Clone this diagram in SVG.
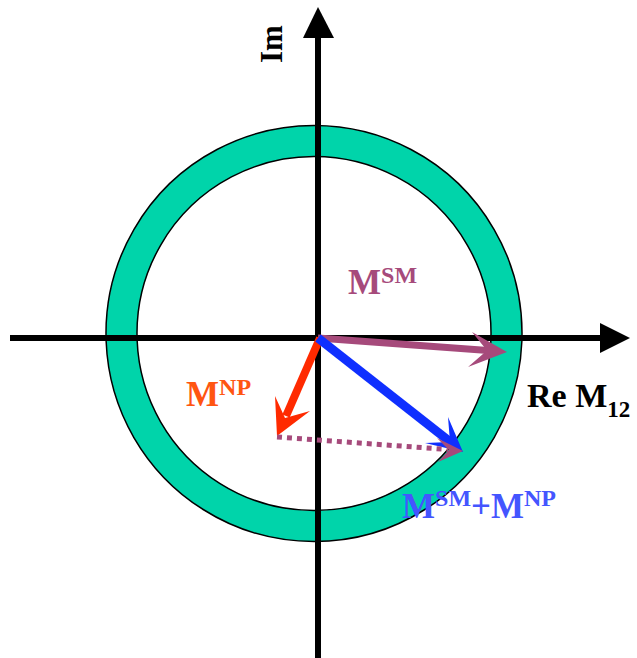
<svg xmlns="http://www.w3.org/2000/svg" width="637" height="658" viewBox="0 0 637 658">
<style>
.lbl{font-family:"Liberation Serif","Times New Roman",serif;font-weight:bold}
.ax{stroke:#000;stroke-width:6;fill:none}
</style>
<rect width="637" height="658" fill="#fff"/>
<g id="ring">
<path d="M314,125.5 a208,208 0 1,0 0.01,0 Z M314,156.5 a177,177 0 1,0 0.01,0 Z" fill="#00D4AA" fill-rule="evenodd" stroke="#000" stroke-width="1.5"/>
</g>
<g id="axes">
<line class="ax" x1="318" y1="36" x2="318" y2="658"/>
<polygon points="318,7 303,38 334,38" fill="#000"/>
<line class="ax" x1="10" y1="338" x2="602" y2="338"/>
<polygon points="630,338 600,323 600,353" fill="#000"/>
</g>
<g id="connectors">
<g id="msm-arrow">
<line x1="318" y1="338" x2="488" y2="350.5" stroke="#A64A7B" stroke-width="7"/>
<polygon points="507,352 472,332 487,350.5 468,367" fill="#A64A7B"/>
</g>
<g id="mnp-arrow">
<line x1="320" y1="338" x2="286" y2="416" stroke="#FF2A00" stroke-width="8"/>
<polygon points="277,436 275,396 285,418 310,411" fill="#FF2A00"/>
</g>
<g id="sum-arrow">
<line x1="318" y1="338" x2="451" y2="442.5" stroke="#0F2FFF" stroke-width="9"/>
<polygon points="463,452 448,417 450,442 425,443" fill="#0F2FFF"/>
</g>
<g id="dotted-arrow">
<line x1="277" y1="437" x2="448" y2="449.5" stroke="#A64A7B" stroke-width="5" stroke-dasharray="5 5"/>
<polygon points="463,451 437,438 449,450 438,462" fill="#A64A7B"/>
</g>
</g>
<g id="labels" class="lbl">
<text transform="translate(282,63) rotate(-90)" font-size="31" fill="#000">Im</text>
<text x="527" y="407" font-size="34" fill="#000">Re M<tspan font-size="23" dy="10">12</tspan></text>
<text x="348" y="294" font-size="35" fill="#A64A7B">M<tspan font-size="24" dy="-11">SM</tspan></text>
<text x="186" y="406" font-size="35" fill="#FF5511">M<tspan font-size="24" dy="-11">NP</tspan></text>
<text x="402" y="518" font-size="35" fill="#4455FF">M<tspan font-size="24" dy="-12">SM</tspan><tspan dy="12">+M</tspan><tspan font-size="24" dy="-12">NP</tspan></text>
</g>
</svg>
